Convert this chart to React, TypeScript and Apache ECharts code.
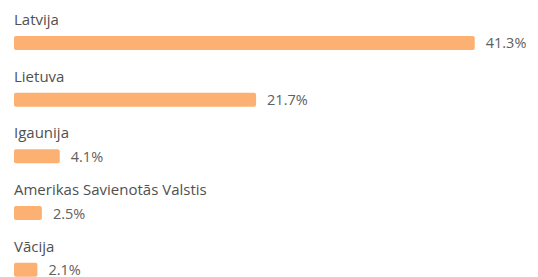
import React, { useEffect, useRef } from "react";
import * as echarts from "echarts";

const categories = ["Latvija", "Lietuva", "Igaunija", "Amerikas Savienotās Valstis", "Vācija"];
const values = [41.3, 21.7, 4.1, 2.5, 2.1];

export default function App() {
  const ref = useRef<HTMLDivElement>(null);
  useEffect(() => {
    const chart = echarts.init(ref.current!, null, { renderer: "svg" });
    chart.setOption({
      animation: false,
      backgroundColor: "#ffffff",
      grid: { left: 14, right: 22, top: 14.6, height: 283.5, containLabel: false },
      xAxis: { type: "value", min: 0, max: 45, show: false },
      yAxis: {
        type: "category",
        inverse: true,
        data: categories,
        axisLine: { show: false },
        axisTick: { show: false },
        splitLine: { show: false },
        axisLabel: { show: false },
      },
      series: [
        {
          type: "bar",
          data: values,
          barWidth: 14,
          itemStyle: { color: "#fcb172", borderRadius: 2 },
          label: {
            show: true,
            position: "right",
            distance: 11,
            formatter: (p: any) => p.value + "%",
            color: "#606060",
            fontFamily: "Open Sans",
            fontSize: 14.5,
          },
        },
        {
          type: "bar",
          data: values,
          barWidth: 14,
          barGap: "-100%",
          silent: true,
          itemStyle: { color: "rgba(0,0,0,0)" },
          label: {
            show: true,
            position: [0, -24.5],
            align: "left",
            verticalAlign: "top",
            formatter: (p: any) => p.name,
            color: "#505050",
            fontFamily: "Open Sans",
            fontSize: 15,
          },
        },
      ],
    });
    return () => chart.dispose();
  }, []);
  return (
    <div style={{ width: 538, height: 277, position: "absolute", left: 0, top: 0, overflow: "hidden" }}>
      <div ref={ref} style={{ width: 538, height: 300 }} />
    </div>
  );
}
